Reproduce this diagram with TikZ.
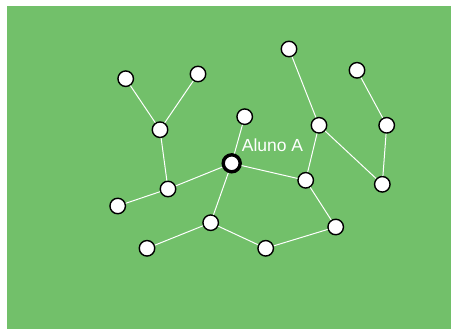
\documentclass[tikz,border=0pt]{standalone}
\usepackage{fontspec}
\setmainfont{Liberation Sans}
\usepackage{tikz}
\usetikzlibrary{positioning}
\definecolor{campo}{RGB}{114,192,106}
\tikzset{
  gv/.style={circle,draw=black,fill=white,line width=1.4pt,minimum size=15.5pt,
    inner sep=0pt},
  gvA/.style={gv,line width=3.4pt,minimum size=17pt},
  gedge/.style={white,line width=1pt},
  gvlbl/.style={text=white,font=\fontsize{17.5}{20}\selectfont,inner sep=0pt},
}
\begin{document}
\begin{tikzpicture}[x=1pt,y=-1pt]
  \useasboundingbox (0,0) rectangle (451,329);
  \fill[campo] (7,6) rectangle (451,329);
  % alunos
  \node[gv] (a1) at (125.7,78.7) {};
  \node[gv] (a2) at (198,74) {};
  \node[gv] (a3) at (289,49) {};
  \node[gv] (a4) at (357,70.3) {};
  \node[gv] (a5) at (160,129.7) {};
  \node[gv] (a6) at (244.7,116.7) {};
  \node[gv] (a7) at (319,125.3) {};
  \node[gv] (a8) at (386.7,125.3) {};
  \node[gvA] (aA) at (231.7,163.3) {};
  \node[gv] (a10) at (305.7,180.3) {};
  \node[gv] (a11) at (382.3,184.3) {};
  \node[gv] (a12) at (168,189) {};
  \node[gv] (a13) at (117.7,206) {};
  \node[gv] (a14) at (210.7,222.7) {};
  \node[gv] (a15) at (335.7,227) {};
  \node[gv] (a16) at (147,248.3) {};
  \node[gv] (a17) at (265.7,248.3) {};
  \node[gvlbl,anchor=base west] (lblA) at (241.7,151.7) {Aluno A};
  % ligações
  \foreach \u/\v in {a1/a5,a2/a5,a5/a12,a12/a13,a12/aA,aA/a6,aA/a10,aA/a14,
      a14/a16,a14/a17,a17/a15,a15/a10,a10/a7,a7/a3,a7/a11,a11/a8,a8/a4}
    \draw[gedge] (\u) -- (\v);
\end{tikzpicture}
\end{document}
